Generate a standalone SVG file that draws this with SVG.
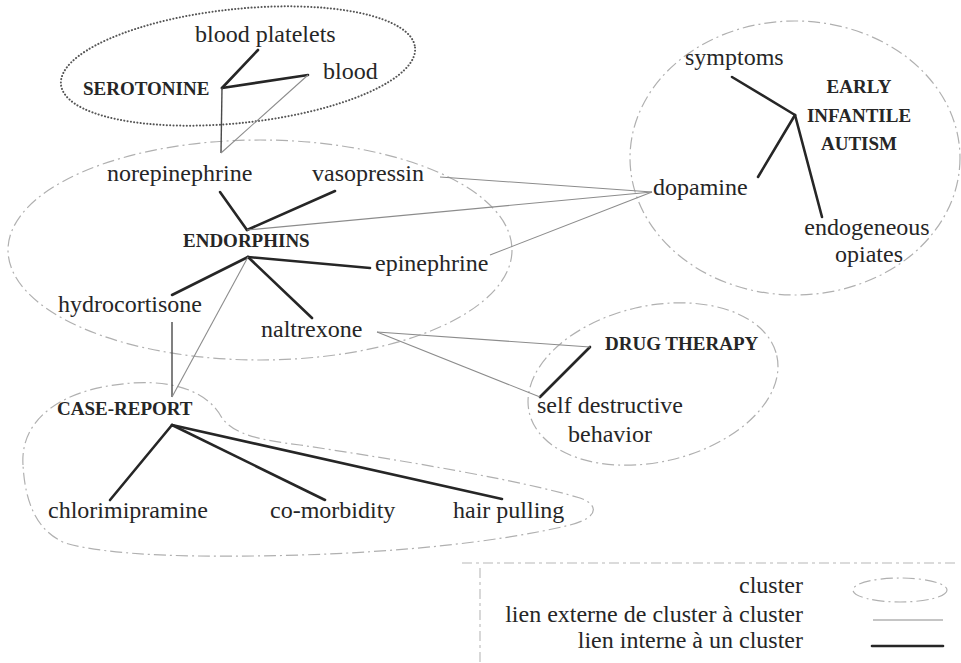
<svg xmlns="http://www.w3.org/2000/svg" width="961" height="663" viewBox="0 0 961 663">
<style>
.t { font-family: "Liberation Serif", "Times New Roman", serif; font-size: 24px; fill: #262626; }
.b { font-weight: bold; font-size: 19px; }
.int { stroke: #262626; stroke-width: 2.6; stroke-linecap: round; fill: none; }
.ext { stroke: #8c8c8c; stroke-width: 1.1; fill: none; }
.mid { stroke: #4a4a4a; stroke-width: 1.4; fill: none; }
.cl { fill: none; stroke: #b0b0b0; stroke-width: 1.2; stroke-dasharray: 12 4 2 4; }
.ser { fill: none; stroke: #555; stroke-width: 2; stroke-dasharray: 0.1 3.2; stroke-linecap: round; }
.frame { stroke: #b8b8b8; stroke-width: 1.1; stroke-dasharray: 10 4 3 4; fill: none; }
</style>
<rect width="961" height="663" fill="#ffffff"/>

<g id="clusters">
  <ellipse id="cluster-serotonine" class="ser" cx="238" cy="66" rx="178" ry="57" transform="rotate(-6 238 66)"/>
  <ellipse id="cluster-endorphins" class="cl" cx="260" cy="250" rx="252" ry="110"/>
  <ellipse id="cluster-autism" class="cl" cx="795" cy="158" rx="165" ry="137"/>
  <ellipse id="cluster-drug" class="cl" cx="653" cy="384" rx="127" ry="78" transform="rotate(-13 653 384)"/>
  <path id="cluster-case" class="cl" d="M 23,465 C 20,420 60,388 133,383 C 180,380 210,395 222,418 C 235,435 260,440 300,445 C 400,460 520,480 580,498 C 600,505 598,518 570,525 C 500,542 400,552 300,555 C 200,558 110,556 65,543 C 35,530 25,500 23,465 Z"/>
</g>

<g id="connectors">
  <!-- internal links -->
  <line class="int" x1="222" y1="88" x2="258" y2="50"/>
  <line class="int" x1="222" y1="88" x2="308" y2="75"/>
  <line class="int" x1="247" y1="230" x2="220" y2="192"/>
  <line class="int" x1="247" y1="230" x2="335" y2="191"/>
  <line class="int" x1="248" y1="257" x2="370" y2="268"/>
  <line class="int" x1="248" y1="257" x2="172" y2="295"/>
  <line class="int" x1="248" y1="257" x2="312" y2="318"/>
  <line class="int" x1="795" y1="115" x2="732" y2="77"/>
  <line class="int" x1="795" y1="115" x2="758" y2="177"/>
  <line class="int" x1="795" y1="115" x2="822" y2="217"/>
  <line class="int" x1="590" y1="347" x2="540" y2="397"/>
  <line class="int" x1="172" y1="425" x2="110" y2="500"/>
  <line class="int" x1="172" y1="425" x2="325" y2="500"/>
  <line class="int" x1="172" y1="425" x2="502" y2="499"/>
  <!-- external links -->
  <line class="mid" x1="222" y1="88" x2="221" y2="153"/>
  <line class="ext" x1="308" y1="75" x2="221" y2="153"/>
  <line class="ext" x1="440" y1="177" x2="652" y2="192"/>
  <line class="ext" x1="247" y1="230" x2="652" y2="192"/>
  <line class="ext" x1="490" y1="255" x2="652" y2="192"/>
  <line class="ext" x1="377" y1="332" x2="590" y2="347"/>
  <line class="ext" x1="377" y1="332" x2="540" y2="397"/>
  <line class="mid" x1="172" y1="322" x2="172" y2="397"/>
  <line class="ext" x1="248" y1="257" x2="172" y2="397"/>
</g>

<g id="node-serotonine"><text class="t b" x="83" y="95">SEROTONINE</text></g>
<g id="node-blood-platelets"><text class="t" x="195" y="42">blood platelets</text></g>
<g id="node-blood"><text class="t" x="323" y="79">blood</text></g>
<g id="node-norepinephrine"><text class="t" x="107" y="181">norepinephrine</text></g>
<g id="node-vasopressin"><text class="t" x="312" y="181">vasopressin</text></g>
<g id="node-endorphins"><text class="t b" x="183" y="247">ENDORPHINS</text></g>
<g id="node-epinephrine"><text class="t" x="375" y="271">epinephrine</text></g>
<g id="node-hydrocortisone"><text class="t" x="58" y="312">hydrocortisone</text></g>
<g id="node-naltrexone"><text class="t" x="261" y="337">naltrexone</text></g>
<g id="node-symptoms"><text class="t" x="685" y="65">symptoms</text></g>
<g id="node-autism"><text class="t b" text-anchor="middle" x="859" y="93">EARLY</text><text class="t b" text-anchor="middle" x="859" y="122">INFANTILE</text><text class="t b" text-anchor="middle" x="859" y="150">AUTISM</text></g>
<g id="node-dopamine"><text class="t" x="653" y="195">dopamine</text></g>
<g id="node-endogeneous"><text class="t" text-anchor="middle" x="867" y="235">endogeneous</text><text class="t" text-anchor="middle" x="869" y="262">opiates</text></g>
<g id="node-drug-therapy"><text class="t b" x="605" y="350">DRUG THERAPY</text></g>
<g id="node-self-destructive"><text class="t" text-anchor="middle" x="610" y="413">self destructive</text><text class="t" text-anchor="middle" x="610" y="442">behavior</text></g>
<g id="node-case-report"><text class="t b" x="57" y="415">CASE-REPORT</text></g>
<g id="node-chlorimipramine"><text class="t" x="48" y="518">chlorimipramine</text></g>
<g id="node-co-morbidity"><text class="t" x="270" y="518">co-morbidity</text></g>
<g id="node-hair-pulling"><text class="t" x="453" y="518">hair pulling</text></g>

<g id="legend">
  <line class="frame" x1="462" y1="563" x2="955" y2="563"/>
  <line class="frame" x1="480" y1="568" x2="480" y2="663"/>
  <text class="t" text-anchor="end" x="803" y="593">cluster</text>
  <text class="t" text-anchor="end" x="803" y="622">lien externe de cluster à cluster</text>
  <text class="t" text-anchor="end" x="803" y="648">lien interne à un cluster</text>
  <ellipse class="cl" cx="900" cy="590" rx="47" ry="12"/>
  <line class="ext" x1="873" y1="620" x2="943" y2="620"/>
  <line class="int" x1="872" y1="646" x2="943" y2="646"/>
</g>
</svg>
